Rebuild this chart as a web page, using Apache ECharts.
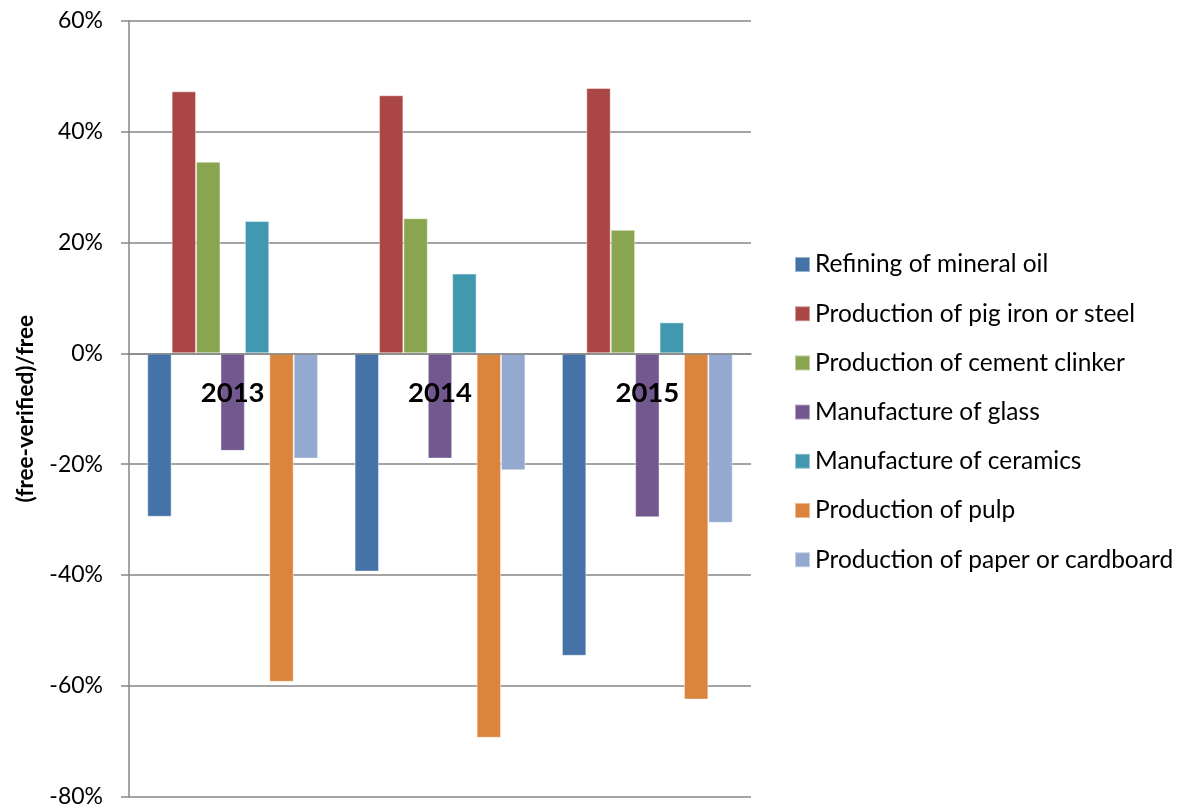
<!DOCTYPE html>
<html>
<head>
<meta charset="utf-8">
<script src="https://cdn.jsdelivr.net/npm/echarts@6/dist/echarts.min.js"></script>
<style>
  html, body { margin: 0; padding: 0; background: #fff; }
  #chart { width: 1182px; height: 809px; }
</style>
</head>
<body>
<div id="chart"></div>
<script>
// Years on the category axis
const years = ['2013', '2014', '2015'];

// Relative difference (free - verified) / free, in percent
const refiningMineralOil   = [-29.5, -39.4, -54.6];
const pigIronSteel         = [47.3, 46.6, 47.9];
const cementClinker        = [34.6, 24.4, 22.3];
const glass                = [-17.6, -19.0, -29.6];
const ceramics             = [23.9, 14.4, 5.6];
const pulp                 = [-59.3, -69.4, -62.5];
const paperCardboard       = [-19.0, -21.1, -30.6];

const seriesNames = [
  'Refining of mineral oil',
  'Production of pig iron or steel',
  'Production of cement clinker',
  'Manufacture of glass',
  'Manufacture of ceramics',
  'Production of pulp',
  'Production of paper or cardboard'
];
const seriesValues = [refiningMineralOil, pigIronSteel, cementClinker, glass, ceramics, pulp, paperCardboard];
const colors = ['#4573A7', '#AA4644', '#8AA54F', '#72588F', '#4299AF', '#DB843E', '#93A9CF'];

// Y axis tick range
const yMin = -80, yMax = 60, yStep = 20;

const FONT = 'Lato, "Open Sans", sans-serif';
const GRID_TOP = 21, GRID_BOTTOM = 12.5, CHART_H = 809;
const chart = echarts.init(document.getElementById('chart'));

// Place the category axis on the zero line of the value axis
const plotH = CHART_H - GRID_TOP - GRID_BOTTOM;
const zeroOffset = -plotH * (0 - yMin) / (yMax - yMin);

chart.setOption({
  animation: false,
  color: colors,
  textStyle: { fontFamily: FONT },
  grid: {
    left: 129, right: 431, top: GRID_TOP, bottom: GRID_BOTTOM,
    containLabel: false,
    outerBoundsMode: 'none'
  },
  legend: {
    orient: 'vertical',
    left: 794,
    top: 252,
    padding: 0,
    itemWidth: 15,
    itemHeight: 15,
    itemGap: 24.2,
    icon: 'rect',
    textStyle: { fontFamily: FONT, fontSize: 24.5, color: '#000', lineHeight: 24 },
    data: seriesNames
  },
  xAxis: {
    type: 'category',
    data: years,
    position: 'bottom',
    offset: zeroOffset,
    z: 10,
    axisLine: { show: true, onZero: false, lineStyle: { color: '#868686', width: 1.5 } },
    axisTick: { show: false },
    axisLabel: { margin: 26, fontFamily: FONT, fontSize: 27.5, fontWeight: 'bold', color: '#000' },
    splitLine: { show: false }
  },
  yAxis: {
    type: 'value',
    min: yMin,
    max: yMax,
    interval: yStep,
    name: '(free-verified)/free',
    nameLocation: 'middle',
    nameGap: 92,
    nameTextStyle: { fontFamily: FONT, fontSize: 22.6, fontWeight: 'bold', color: '#000' },
    axisLine: { show: true, lineStyle: { color: '#868686', width: 1.5 } },
    axisTick: { show: true, inside: false, length: 8, lineStyle: { color: '#868686', width: 1.5 } },
    axisLabel: { margin: 26, formatter: '{value}%', fontFamily: FONT, fontSize: 23, color: '#000' },
    splitLine: { show: true, lineStyle: { color: '#868686', width: 1.5 } }
  },
  series: seriesNames.map((name, i) => ({
    name: name,
    type: 'bar',
    data: seriesValues[i],
    barGap: '0%',
    barCategoryGap: '17.6%',
    itemStyle: { borderColor: 'rgba(255,255,255,0.45)', borderWidth: 1 }
  }))
});
</script>
</body>
</html>
